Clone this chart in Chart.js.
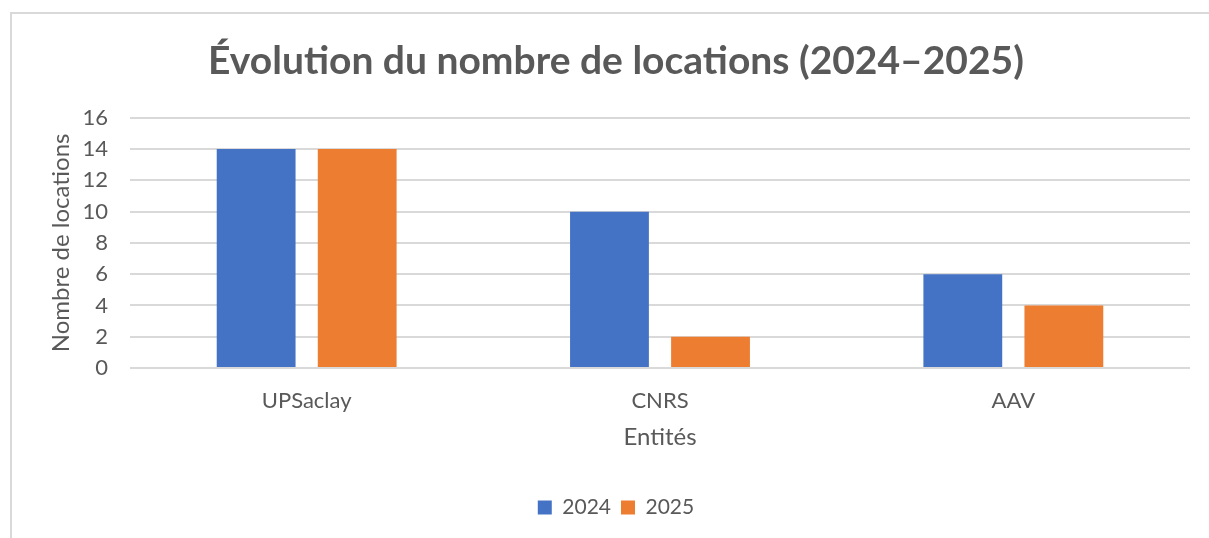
<!DOCTYPE html>
<html>
<head>
<meta charset="utf-8">
<script src="https://cdn.jsdelivr.net/npm/chart.js@4.4.1/dist/chart.umd.min.js"></script>
<style>
  html, body { margin: 0; padding: 0; background: #fff; overflow: hidden; }
  #box {
    position: absolute; left: 10px; top: 12px; width: 1199px; height: 526px;
    border-left: 2px solid #d9d9d9; border-top: 2px solid #d9d9d9;
    box-sizing: border-box;
  }
</style>
</head>
<body>
<div id="box"><canvas id="dash"></canvas></div>
<script>
  // données
  const entites = ["UPSaclay", "CNRS", "AAV"];
  const locations2024 = [14, 10, 6];
  const locations2025 = [14, 2, 4];
  const yTicks = [0, 2, 4, 6, 8, 10, 12, 14, 16];

  const gris = "#595959";
  const police = "Lato, 'Open Sans', sans-serif";

  const dash = document.getElementById("dash");

  new Chart(dash, {
    type: "bar",
    data: {
      labels: entites,
      datasets: [
        {
          label: "2024",
          data: locations2024,
          backgroundColor: "#4472c4",
          categoryPercentage: 0.572,
          barPercentage: 0.78,
        },
        {
          label: "2025",
          data: locations2025,
          backgroundColor: "#ed7d31",
          categoryPercentage: 0.572,
          barPercentage: 0.78,
        },
      ],
    },
    options: {
      responsive: true,
      maintainAspectRatio: false,
      animation: false,
      layout: {
        padding: { left: 30, right: 19, top: 0, bottom: 10 },
      },
      scales: {
        x: {
          afterFit: (axis) => { axis.height = 119; },
          grid: { display: false },
          border: { display: false },
          ticks: { color: gris, font: { size: 22, family: police }, padding: 12 },
          title: {
            display: true,
            text: "Entités",
            color: gris,
            font: { size: 24, family: police },
            padding: { top: 0, bottom: 35 },
          },
        },
        y: {
          min: 0,
          max: 16,
          afterFit: (axis) => { axis.width = 88; },
          afterBuildTicks: (axis) => {
            axis.ticks = yTicks.map((v) => ({ value: v }));
          },
          grid: { color: "#d9d9d9", lineWidth: 2, drawTicks: false },
          border: { display: false },
          ticks: { color: gris, font: { size: 22, family: police }, padding: 22 },
          title: {
            display: true,
            text: "Nombre de locations",
            color: gris,
            font: { size: 24, family: police },
            padding: { top: 5, bottom: 5 },
          },
        },
      },
      plugins: {
        title: {
          display: true,
          text: "Évolution du nombre de locations (2024–2025)",
          color: gris,
          font: { size: 39, weight: "bold", family: police },
          padding: { top: 24, bottom: 33 },
        },
        legend: {
          display: true,
          position: "bottom",
          labels: {
            color: gris,
            font: { size: 21, family: police },
            boxWidth: 14,
            boxHeight: 14,
            padding: 10,
          },
        },
        tooltip: { enabled: false },
      },
    },
  });
</script>
</body>
</html>
